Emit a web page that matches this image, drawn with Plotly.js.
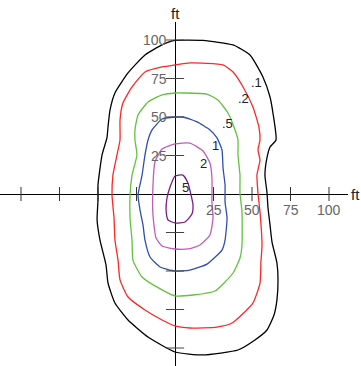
<!DOCTYPE html>
<html>
<head>
<meta charset="utf-8">
<script src="https://cdn.plot.ly/plotly-3.0.1.min.js"></script>
<style>
  html, body { margin: 0; padding: 0; background: #fff; }
  #chart { width: 361px; height: 366px; }
</style>
</head>
<body>
<div id="chart"></div>
<script>
// contour levels, outermost first
const levels = ['.1', '.2', '.5', '1', '2', '5']
const colors = ['#000000', '#ff2626', '#62c23e', '#2f4fae', '#c15cbd', '#7b1d86']

// outlines in ft (clockwise from the top)
const x01 = [0, 18.2, 37.7, 48.7, 57.1, 61.7, 63.6, 65.6, 61.7, 59.7, 58.4, 59.7, 60.4, 61.7, 63.0, 66.2, 66.9, 66.2, 64.3, 59.7, 51.9, 40.9, 18.2, 0, -17.5, -30.5, -39.0, -43.5, -44.8, -48.7, -50.6, -50.0, -50.0, -47.4, -44.2, -43.5, -42.2, -39.0, -30.5, -19.5, -8.4]
const y01 = [99.7, 99.7, 96.8, 90.3, 76.0, 63.0, 52.6, 35.1, 30.5, 23.4, 12.3, 1.3, -9.1, -20.1, -31.2, -44.8, -55.8, -68.8, -78.6, -88.3, -94.8, -101.3, -104.5, -102.6, -92.9, -81.8, -70.8, -57.8, -46.1, -29.9, -16.9, -3.9, 5.8, 25.3, 36.4, 43.5, 54.5, 65.6, 78.6, 90.3, 96.8]

const x02 = [0, 9.7, 31.2, 37.7, 44.2, 50.6, 54.5, 55.2, 53.9, 55.2, 53.2, 53.9, 55.2, 56.5, 55.8, 55.2, 50.6, 37.0, 27.3, 9.7, 0, -8.4, -19.5, -30.5, -35.7, -37.0, -39.0, -39.6, -40.9, -40.3, -37.7, -35.7, -35.7, -33.8, -27.9, -19.5, -8.4]
const y02 = [83.8, 85.1, 83.8, 79.2, 69.5, 56.5, 43.5, 35.1, 28.6, 22.1, 12.3, 0.6, -11.7, -33.1, -44.2, -57.8, -70.8, -83.8, -86.4, -87.0, -85.7, -81.8, -75.3, -66.9, -55.8, -42.9, -29.9, -15.6, -0.6, 12.3, 25.3, 35.1, 48.1, 59.1, 69.5, 79.2, 82.5]

const x05 = [0, 5.2, 20.8, 27.9, 34.4, 39.0, 40.9, 40.9, 42.2, 42.2, 43.5, 43.5, 42.2, 37.7, 26.0, 11.7, 0, -8.4, -21.4, -27.3, -27.9, -29.2, -29.2, -27.9, -24.7, -26.0, -26.0, -24.0, -17.5, -8.4]
const y05 = [65.6, 65.6, 64.9, 61.0, 52.6, 41.6, 35.1, 25.3, 12.3, 0.6, -11.7, -33.1, -41.6, -51.3, -63.0, -65.6, -66.2, -62.3, -53.9, -42.9, -29.9, -15.6, -0.6, 12.3, 25.3, 35.1, 41.6, 51.3, 59.7, 64.3]

const x1 = [0, 5.2, 14.3, 22.7, 27.3, 30.5, 31.2, 32.5, 32.5, 33.8, 32.5, 30.5, 20.8, 9.7, 0, -9.7, -16.2, -19.5, -20.8, -22.7, -24.0, -21.4, -19.5, -17.5, -14.9, -8.4]
const y1 = [50.0, 50.0, 46.8, 41.6, 36.4, 28.6, 16.9, 5.8, -5.2, -15.6, -29.9, -36.4, -45.5, -49.4, -50.0, -47.4, -40.9, -29.9, -20.1, -10.4, -0.6, 12.3, 25.3, 35.1, 41.6, 48.7]

const x2 = [0, 9.7, 18.2, 22.7, 24.0, 24.0, 24.7, 22.7, 16.2, 8.4, 0, -8.4, -12.3, -14.3, -14.3, -13.0, -8.4]
const y2 = [32.5, 33.1, 27.9, 20.1, 10.4, -5.2, -15.6, -26.6, -33.1, -35.7, -35.7, -33.8, -28.6, -13.6, 5.8, 20.8, 29.2]

const x5 = [0, 5.2, 8.4, 10.4, 11.7, 11.0, 6.5, 0, -4.5, -5.8, -5.2, -3.2]
const y5 = [11.7, 12.3, 7.1, -0.6, -7.1, -13.0, -18.2, -18.8, -16.9, -10.4, -2.6, 4.5]

// where each level is labelled (ft)
const labelX = [53.2, 44.2, 34.4, 26.6, 18.2, 6.5]
const labelY = [72.7, 61.7, 45.5, 31.8, 19.5, 4.5]

// axis ticks
const tickVals = [-100, -75, -50, -25, 25, 50, 75, 100]
const tickText = ['25', '50', '75', '100']
const tickTextVals = [25, 50, 75, 100]

const outlines = [[x01, y01], [x02, y02], [x05, y05], [x1, y1], [x2, y2], [x5, y5]]
const close = (a) => a.concat([a[0]])

const traces = outlines.map(([x, y], i) => ({
  x: close(x),
  y: close(y),
  name: levels[i],
  mode: 'lines',
  line: {color: colors[i], width: 1.3, shape: 'spline', smoothing: 0.5},
  hoverinfo: 'skip'
}))

// tick marks crossing the axes
traces.push({
  x: tickVals,
  y: tickVals.map(() => 0),
  mode: 'markers',
  marker: {symbol: 'line-ns', size: 10, line: {color: '#333', width: 1}},
  hoverinfo: 'skip'
})
traces.push({
  x: tickVals.map(() => 0),
  y: tickVals,
  mode: 'markers',
  marker: {symbol: 'line-ew', size: 13, line: {color: '#444', width: 1}},
  hoverinfo: 'skip'
})

const tickFont = {family: 'Liberation Sans, Arial, sans-serif', size: 14, color: '#666'}
const annotations = []
tickTextVals.forEach((v, i) => {
  annotations.push({x: v, y: 0, text: tickText[i], showarrow: false, yshift: -16, font: tickFont})
  annotations.push({x: 0, y: v, text: tickText[i], showarrow: false, xanchor: 'right', xshift: -6, font: tickFont})
})
levels.forEach((lev, i) => {
  annotations.push({
    x: labelX[i], y: labelY[i], text: lev, showarrow: false,
    font: {family: 'Liberation Sans, Arial, sans-serif', size: 13, color: '#222'}
  })
})
const unitFont = {family: 'Liberation Sans, Arial, sans-serif', size: 15, color: '#222'}
annotations.push({xref: 'x', yref: 'paper', x: 0, y: 1, yanchor: 'bottom', yshift: -2, text: 'ft', showarrow: false, font: unitFont})
annotations.push({xref: 'paper', yref: 'y', x: 1, y: 0, xanchor: 'left', xshift: 1, text: 'ft', showarrow: false, font: unitFont})

const axis = {
  showgrid: false,
  zeroline: true,
  zerolinecolor: '#000',
  zerolinewidth: 1,
  showticklabels: false,
  ticks: '',
  showline: false
}

const layout = {
  width: 361,
  height: 366,
  margin: {l: 0, r: 13, t: 22, b: 0, pad: 0},
  paper_bgcolor: '#fff',
  plot_bgcolor: '#fff',
  showlegend: false,
  hovermode: false,
  xaxis: {...axis, range: [-113.64, 112.34]},
  yaxis: {...axis, range: [-111.69, 111.69]},
  annotations
}

Plotly.newPlot('chart', traces, layout, {displayModeBar: false, staticPlot: true})
</script>
</body>
</html>
